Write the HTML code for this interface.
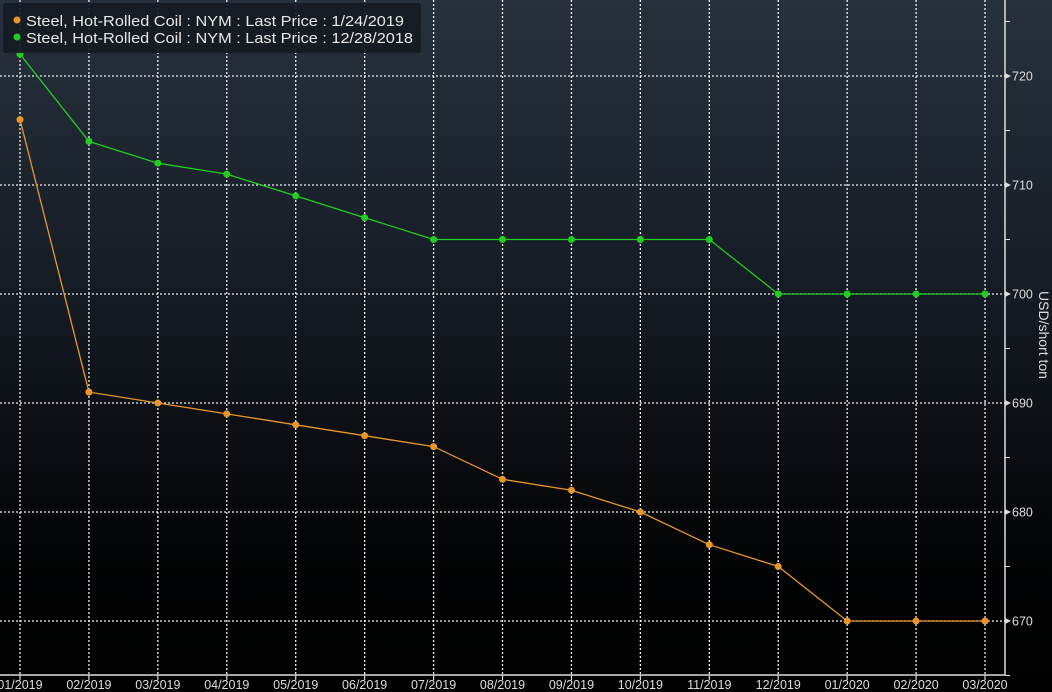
<!DOCTYPE html>
<html><head><style>
body{margin:0;width:1052px;height:692px;overflow:hidden;background:#000}
svg{display:block}
text{font-family:"Liberation Sans",sans-serif}
</style></head><body>
<svg width="1052" height="692" xmlns="http://www.w3.org/2000/svg">
<defs><linearGradient id="bg" x1="0" y1="0" x2="0" y2="1">
<stop offset="0" stop-color="#27313e"/><stop offset="0.45" stop-color="#141a22"/><stop offset="0.8" stop-color="#030405"/><stop offset="1" stop-color="#000"/></linearGradient></defs>
<rect width="1052" height="692" fill="url(#bg)"/>
<g id="grid" stroke="#f0f0f0" stroke-width="1.3" stroke-dasharray="2,2"></g>
<line x1="1005" y1="0" x2="1005" y2="675" stroke="#ddd" stroke-width="1.5"/>
<line x1="0" y1="675" x2="1005" y2="675" stroke="#ddd" stroke-width="1.5"/>
<g id="ax" fill="#ddd" font-size="12.5"></g>
<text transform="translate(1039,335) rotate(90)" text-anchor="middle" fill="#ddd" font-size="14">USD/short ton</text>
<polyline id="g" fill="none" stroke="#22cc22" stroke-width="1.3"/>
<polyline id="o" fill="none" stroke="#e8962a" stroke-width="1.3"/>
<g id="pts"></g>
<rect x="3" y="3" width="418" height="50" rx="3" fill="#151b23" opacity="0.92"/>
<circle cx="17" cy="20" r="3.5" fill="#e8962a"/>
<circle cx="17" cy="37" r="3.5" fill="#22cc22"/>
<text x="26" y="26" fill="#e6e6e6" font-size="15" textLength="378" lengthAdjust="spacingAndGlyphs">Steel, Hot-Rolled Coil : NYM : Last Price : 1/24/2019</text>
<text x="26" y="43" fill="#e6e6e6" font-size="15" textLength="387" lengthAdjust="spacingAndGlyphs">Steel, Hot-Rolled Coil : NYM : Last Price : 12/28/2018</text>
</svg>
<script>
var ns="http://www.w3.org/2000/svg";
function el(t,a,p,txt){var e=document.createElementNS(ns,t);for(var k in a)e.setAttribute(k,a[k]);if(txt)e.textContent=txt;document.getElementById(p).appendChild(e);}
var X=i=>20+i*68.93, Y=v=>76+(720-v)*10.9;
var labs=["01/2019","02/2019","03/2019","04/2019","05/2019","06/2019","07/2019","08/2019","09/2019","10/2019","11/2019","12/2019","01/2020","02/2020","03/2020"];
for(var i=0;i<15;i++){el("line",{x1:X(i),y1:0,x2:X(i),y2:675},"grid");
el("line",{x1:X(i),y1:675,x2:X(i),y2:680,stroke:"#ddd","stroke-width":1.2},"ax");
el("text",{x:X(i),y:689,"text-anchor":"middle"},"ax",labs[i]);}
for(var v=670;v<=720;v+=10){el("line",{x1:0,y1:Y(v),x2:1005,y2:Y(v)},"grid");
el("polygon",{points:"1005,"+(Y(v)-3)+" 1011,"+Y(v)+" 1005,"+(Y(v)+3)},"ax");
el("text",{x:1012,y:Y(v)+4.5},"ax",""+v);
el("line",{x1:1005,y1:Y(v+5),x2:1010,y2:Y(v+5),stroke:"#ddd"},"ax");}
el("line",{x1:1005,y1:Y(665),x2:1010,y2:Y(665),stroke:"#ddd"},"ax");
var o=[716,691,690,689,688,687,686,683,682,680,677,675,670,670,670];
var g=[722,714,712,711,709,707,705,705,705,705,705,700,700,700,700];
document.getElementById("o").setAttribute("points",o.map((v,i)=>X(i)+","+Y(v)).join(" "));
document.getElementById("g").setAttribute("points",g.map((v,i)=>X(i)+","+Y(v)).join(" "));
o.forEach((v,i)=>el("circle",{cx:X(i),cy:Y(v),r:3.5,fill:"#e8962a"},"pts"));
g.forEach((v,i)=>el("circle",{cx:X(i),cy:Y(v),r:3.5,fill:"#22cc22"},"pts"));
</script>
</body></html>
